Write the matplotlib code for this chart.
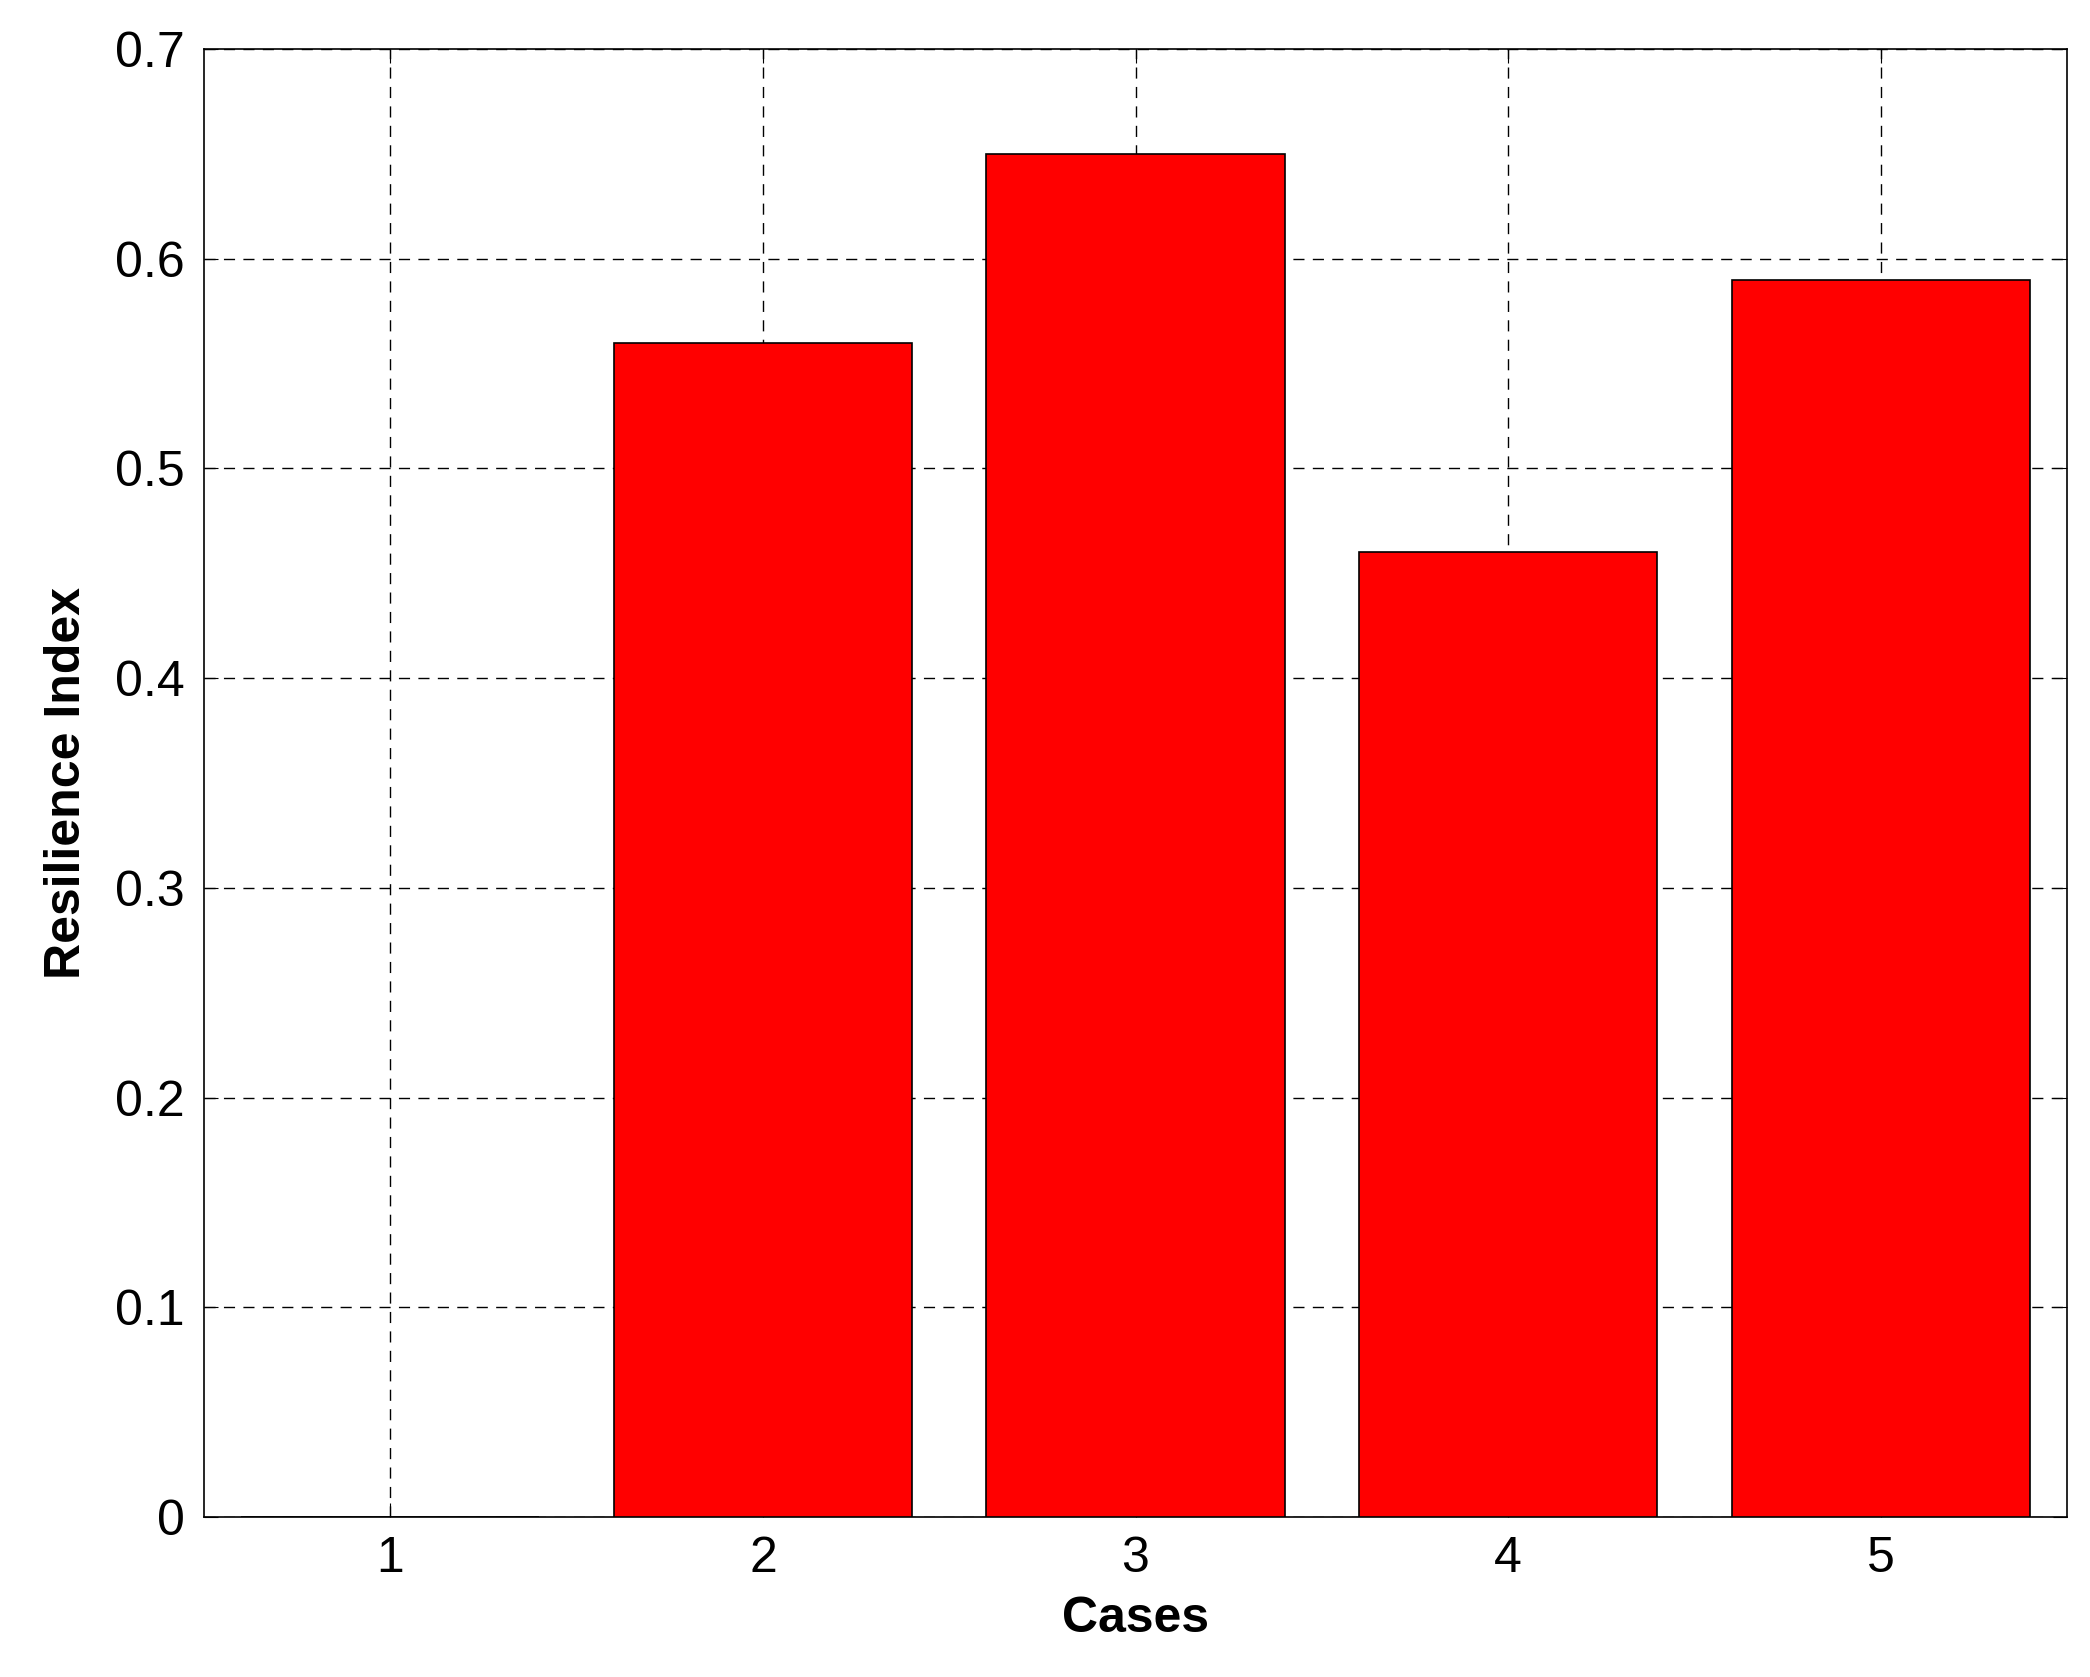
import matplotlib
matplotlib.use("Agg")
import matplotlib.pyplot as plt

cases = [1, 2, 3, 4, 5]
values = [0.0, 0.56, 0.65, 0.46, 0.59]

plt.rcParams['font.family'] = ['Liberation Sans', 'DejaVu Sans']
fig = plt.figure(figsize=(20.9, 16.77), dpi=100)
ax = fig.add_axes([204/2090, 1-1517/1677, (2067-204)/2090, (1517-49)/1677])
ax.bar(cases, values, width=0.8, color='#ff0000', edgecolor='black', linewidth=1.2, zorder=3)
ax.set_xlim(0.5, 5.5)
ax.set_ylim(0, 0.7)
ax.set_xticks(cases)
ax.set_yticks([0, 0.1, 0.2, 0.3, 0.4, 0.5, 0.6, 0.7])
ax.set_yticklabels(['0', '0.1', '0.2', '0.3', '0.4', '0.5', '0.6', '0.7'])
ax.grid(True, color='black', linestyle=(0, (8, 6)), linewidth=1.0, zorder=0)
ax.tick_params(direction='in', length=10, labelsize=36, top=True, right=True, pad=14)
for s in ax.spines.values():
    s.set_linewidth(1.2)
ax.set_xlabel('Cases', fontsize=36, fontweight='bold', labelpad=10)
ax.set_ylabel('Resilience Index', fontsize=36, fontweight='bold', labelpad=18)
fig.savefig('out.png', dpi=100)
